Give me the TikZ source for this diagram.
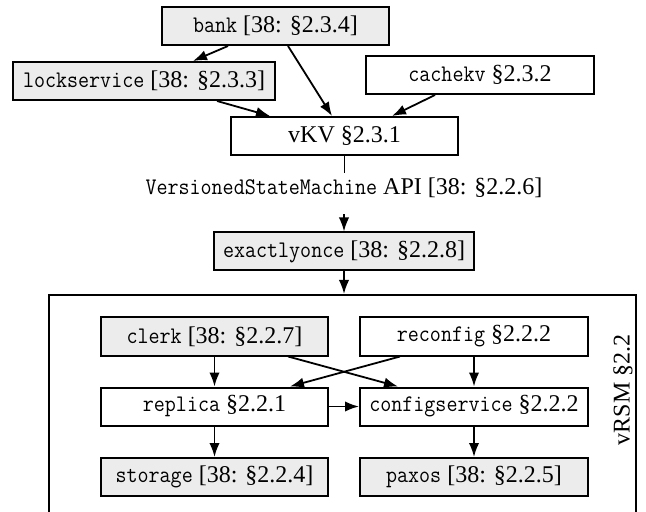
\documentclass[tikz,border=0pt]{standalone}
\usepackage{fontspec}
\setmainfont{Liberation Serif}
\setmonofont{Latin Modern Mono}[FakeStretch=0.9]
\usetikzlibrary{arrows.meta,calc}
\newcommand\code[1]{{\fontsize{11.9pt}{13.5pt}\selectfont\ttfamily #1}}
\begin{document}
\begin{tikzpicture}[x=0.5pt,y=-0.5pt,
  txt/.style={font=\fontsize{12pt}{14pt}\selectfont},
  box/.style={draw,line width=1pt,minimum width=113.5pt,minimum height=19pt,inner sep=0pt,txt},
  ext/.style={box,fill=gray!15},
  conn/.style={line width=0.9pt,-{Latex[length=7pt,width=5.2pt]}},
  plain/.style={line width=0.9pt},
]
\useasboundingbox (0,0) rectangle (646,512);
% top part
\node[ext] (bank) at (275.5,26) {\code{bank} [38: §2.3.4]};
\node[ext,minimum width=131pt] (lock) at (144,81) {\code{lockservice} [38: §2.3.3]};
\node[box,minimum width=114pt] (cachekv) at (480,75) {\code{cachekv} §2.3.2};
\node[box] (vkv) at (344.5,136) {vKV §2.3.1};
\node[inner sep=0pt,txt] (api) at (344,188) {\code{VersionedStateMachine} API [38: §2.2.6]};
\node[ext,minimum width=130pt] (exactly) at (344,251.5) {\code{exactlyonce} [38: §2.2.8]};
% outer vRSM box
\node[draw,line width=1pt,minimum width=293.5pt,minimum height=125pt,inner sep=0pt] (outer) at (342.5,420) {};
\node[rotate=90,inner sep=0pt,txt] (vrsm) at (623,390) {vRSM §2.2};
% inner boxes
\node[ext] (clerk) at (214.5,336.5) {\code{clerk} [38: §2.2.7]};
\node[box,minimum width=114pt] (reconfig) at (474,336.5) {\code{reconfig} §2.2.2};
\node[box] (replica) at (214.5,406.5) {\code{replica} §2.2.1};
\node[box,minimum width=114pt] (cfg) at (474,406.5) {\code{configservice} §2.2.2};
\node[ext] (storage) at (214.5,477) {\code{storage} [38: §2.2.4]};
\node[ext,minimum width=114pt] (paxos) at (474,477) {\code{paxos} [38: §2.2.5]};
% connectors top
\draw[conn] ($(bank.south)+(-47.5,0)$) -- ($(lock.north)+(49,0)$);
\draw[conn] ($(bank.south)+(12.5,0)$) -- ($(vkv.north)+(-12.5,0)$);
\draw[conn] ($(lock.south)+(73,0)$) -- ($(vkv.north)+(-74.5,0)$);
\draw[conn] ($(cachekv.south)+(-45,0)$) -- ($(vkv.north)+(47.5,0)$);
\draw[plain] (vkv.south) -- ($(vkv.south)+(0,17)$);
\draw[conn] ($(exactly.north)+(0,-17)$) -- (exactly.north);
\draw[conn] (exactly.south) -- (exactly.south |- outer.north);
% connectors inner
\draw[conn] (clerk.south) -- (replica.north);
\draw[conn] (reconfig.south) -- (cfg.north);
\draw[conn] ($(clerk.south)+(73.5,0)$) -- ($(cfg.north)+(-76,0)$);
\draw[conn] ($(reconfig.south)+(-74,0)$) -- ($(replica.north)+(75.5,0)$);
\draw[conn] (replica.east) -- (cfg.west);
\draw[conn] (replica.south) -- (storage.north);
\draw[conn] (cfg.south) -- (paxos.north);
\end{tikzpicture}
\end{document}
